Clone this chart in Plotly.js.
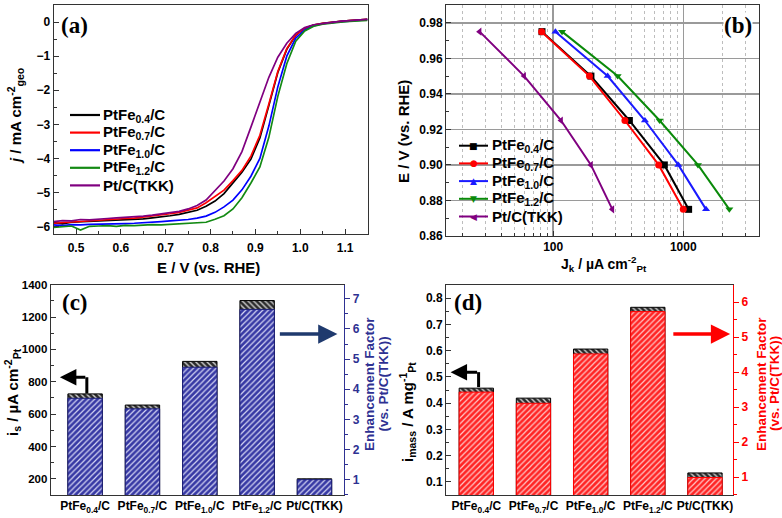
<!DOCTYPE html>
<html><head><meta charset="utf-8">
<script src="https://cdn.plot.ly/plotly-3.0.1.min.js"></script>
<style>html,body{margin:0;padding:0;background:#fff}#chart{width:782px;height:518px}</style>
</head><body><div id="chart"></div>
<script>
// ---------- (a) LSV curves ----------
const potential = [0.45,0.47,0.49,0.51,0.53,0.55,0.57,0.59,0.61,0.63,0.65,0.67,0.69,0.71,0.73,0.75,0.77,0.79,0.81,0.83,0.85,0.87,0.89,0.91,0.93,0.95,0.97,0.99,1.01,1.03,1.05,1.07,1.09,1.11,1.13,1.15];
const jPtFe04 = [-5.88,-5.92,-5.87,-5.86,-5.85,-5.84,-5.82,-5.81,-5.80,-5.78,-5.77,-5.74,-5.72,-5.68,-5.64,-5.58,-5.52,-5.40,-5.25,-5.03,-4.72,-4.40,-4.02,-3.40,-2.45,-1.48,-0.80,-0.39,-0.18,-0.09,-0.04,0.0,0.02,0.04,0.06,0.08];
const jPtFe07 = [-5.90,-5.88,-5.86,-5.84,-5.83,-5.82,-5.80,-5.78,-5.76,-5.75,-5.72,-5.70,-5.66,-5.62,-5.58,-5.52,-5.45,-5.30,-5.12,-4.93,-4.65,-4.35,-3.93,-3.32,-2.40,-1.45,-0.78,-0.38,-0.18,-0.09,-0.04,0.0,0.02,0.04,0.06,0.08];
const jPtFe10 = [-5.95,-5.97,-5.94,-5.95,-5.93,-5.93,-5.92,-5.92,-5.91,-5.90,-5.89,-5.87,-5.85,-5.83,-5.82,-5.79,-5.75,-5.69,-5.58,-5.42,-5.22,-4.92,-4.52,-4.00,-3.05,-1.90,-1.00,-0.47,-0.23,-0.11,-0.05,-0.01,0.01,0.03,0.05,0.07];
const jPtFe12 = [-6.02,-6.00,-5.98,-6.10,-5.99,-5.98,-5.97,-5.99,-5.96,-5.97,-5.95,-5.94,-5.95,-5.93,-5.92,-5.91,-5.89,-5.87,-5.78,-5.68,-5.48,-5.15,-4.72,-4.25,-3.38,-2.18,-1.22,-0.56,-0.26,-0.12,-0.06,-0.02,0.0,0.02,0.04,0.05];
const jPtTKK = [-5.85,-5.82,-5.83,-5.79,-5.80,-5.77,-5.76,-5.74,-5.73,-5.72,-5.69,-5.66,-5.62,-5.58,-5.55,-5.48,-5.38,-5.22,-4.95,-4.66,-4.30,-3.80,-3.08,-2.32,-1.62,-1.03,-0.62,-0.33,-0.16,-0.08,-0.04,0.0,0.02,0.04,0.06,0.08];

// ---------- (b) Tafel ----------
const tafelE = [0.975,0.95,0.925,0.90,0.875];
const jkPtFe04 = [82,195,385,715,1099];
const jkPtFe07 = [81.5,190,356,647,1000];
const jkPtFe10 = [104,262,507,916,1496];
const jkPtFe12 = [117,313,658,1297,2260];
const jkPtTKK = [27.2,59.8,115,195,285];

// ---------- (c),(d) bars ----------
const catLabels = ['PtFe<sub>0.4</sub>/C','PtFe<sub>0.7</sub>/C','PtFe<sub>1.0</sub>/C','PtFe<sub>1.2</sub>/C','Pt/C(TKK)'];
const catIdx = [0,1,2,3,4];
const specActivity = [725,656,926,1302,200];
const enhanceSpec = [3.70,3.35,4.73,6.65,1.00];
const massActivity = [0.457,0.419,0.606,0.765,0.134];
const enhanceMass = [3.43,3.11,4.52,5.73,0.99];

const seriesNames = ['PtFe<sub>0.4</sub>/C','PtFe<sub>0.7</sub>/C','PtFe<sub>1.0</sub>/C','PtFe<sub>1.2</sub>/C','Pt/C(TKK)'];
const colA = ['#000000','#ff0000','#0000ff','#138a13','#800080'];
const colB = ['#000000','#ff0000','#1a1aff','#0a8a0a','#800080'];
const symB = ['square','circle','triangle-up','triangle-down','triangle-left'];
const symGlyph = ['\u25A0','\u25CF','\u25B2','\u25BC','\u25C0'];

const FONT = 'Arial, "Liberation Sans", sans-serif';
const SERIF = '"Times New Roman", "Liberation Serif", serif';
const W = 782, H = 518;
const px = v => v / W, py = v => 1 - v / H;

const traces = [];
const jA = [jPtFe04,jPtFe07,jPtFe10,jPtFe12,jPtTKK];
jA.forEach((y,i)=>traces.push({type:'scatter',mode:'lines',x:potential,y:y,name:seriesNames[i],
  line:{color:colA[i],width:1.7},xaxis:'x',yaxis:'y'}));
const jB = [jkPtFe04,jkPtFe07,jkPtFe10,jkPtFe12,jkPtTKK];
jB.forEach((x,i)=>traces.push({type:'scatter',mode:'lines+markers',x:x,y:tafelE,name:seriesNames[i],
  line:{color:colB[i],width:2},marker:{symbol:symB[i],size:7,color:colB[i]},xaxis:'x2',yaxis:'y2'}));

// (c)
traces.push({type:'bar',x:catIdx,y:specActivity,width:0.6,xaxis:'x3',yaxis:'y3',
  marker:{color:'#333',line:{color:'#000',width:1},pattern:{shape:'\\',bgcolor:'#2a2a2a',fgcolor:'#d0d0d0',size:4,solidity:0.35}}});
traces.push({type:'bar',x:catIdx,y:enhanceSpec,width:0.6,xaxis:'x3',yaxis:'y4',
  marker:{color:'#3a3ca6',line:{color:'#1c1f7a',width:1},pattern:{shape:'/',bgcolor:'#3739a4',fgcolor:'#d6d6f4',size:4,solidity:0.3}}});
// (d)
traces.push({type:'bar',x:catIdx,y:massActivity,width:0.6,xaxis:'x4',yaxis:'y5',
  marker:{color:'#333',line:{color:'#000',width:1},pattern:{shape:'\\',bgcolor:'#2a2a2a',fgcolor:'#d0d0d0',size:4,solidity:0.35}}});
traces.push({type:'bar',x:catIdx,y:enhanceMass,width:0.6,xaxis:'x4',yaxis:'y6',
  marker:{color:'#ff2020',line:{color:'#ff0000',width:1},pattern:{shape:'/',bgcolor:'#ff2424',fgcolor:'#ffc8c8',size:4,solidity:0.3}}});

const tickF = {family:FONT,size:12,color:'#000',weight:'bold'};
const axBase = {showline:true,linecolor:'#333',linewidth:1,mirror:true,ticks:'inside',ticklen:5,tickcolor:'#333',
  tickfont:tickF,zeroline:false,showgrid:false};

const shapes = [
  {type:'line',xref:'x3',yref:'y3',x0:0.03,x1:0.03,y0:728,y1:828,line:{color:'#000',width:3}},
  {type:'line',xref:'x4',yref:'y5',x0:0.04,x1:0.04,y0:0.461,y1:0.518,line:{color:'#000',width:3}},
  // white backing for legend of (b)
  {type:'rect',xref:'paper',yref:'paper',x0:px(447),x1:px(563),y0:py(228),y1:py(137),fillcolor:'#fff',line:{width:0},layer:'between'}
];

const ann = [
  {text:'(a)',x:px(74),y:py(25),font:{family:SERIF,size:23,color:'#000',weight:'bold'}},
  {text:'(b)',x:px(738),y:py(25),bgcolor:'#fff',font:{family:SERIF,size:23,color:'#000',weight:'bold'}},
  {text:'(c)',x:px(75),y:py(302),font:{family:SERIF,size:23,color:'#000',weight:'bold'}},
  {text:'(d)',x:px(468),y:py(302),font:{family:SERIF,size:23,color:'#000',weight:'bold'}},
  {text:'E / V (vs. RHE)',x:px(208),y:py(267),font:{family:FONT,size:15,weight:'bold'}},
  {text:'J<sub>k</sub> / µA cm<sup>-2</sup><sub>Pt</sub>',x:px(604),y:py(264),font:{family:FONT,size:14,weight:'bold'}},
  {text:'<i>j</i> / mA cm<sup>-2</sup><sub>geo</sub>',x:px(15),y:py(116),textangle:-90,font:{family:FONT,size:15,weight:'bold'}},
  {text:'E / V (vs. RHE)',x:px(404),y:py(132),textangle:-90,font:{family:FONT,size:15,weight:'bold'}},
  {text:'i<sub>s</sub> / µA cm<sup>-2</sup><sub>Pt</sub>',x:px(12),y:py(392),textangle:-90,font:{family:FONT,size:15,weight:'bold'}},
  {text:'Enhancement Factor',x:px(369),y:py(384),textangle:-90,font:{family:FONT,size:13.5,color:'#2e3192',weight:'bold'}},
  {text:'(vs. Pt/C(TKK))',x:px(382.5),y:py(384),textangle:-90,font:{family:FONT,size:13.5,color:'#2e3192',weight:'bold'}},
  {text:'i<sub>mass</sub> / A mg<sup>-1</sup><sub>Pt</sub>',x:px(407),y:py(412),textangle:-90,font:{family:FONT,size:15,weight:'bold'}},
  {text:'Enhancement Factor',x:px(761),y:py(384),textangle:-90,font:{family:FONT,size:13.5,color:'#ff0000',weight:'bold'}},
  {text:'(vs. Pt/C(TKK))',x:px(774),y:py(384),textangle:-90,font:{family:FONT,size:13.5,color:'#ff0000',weight:'bold'}}
].map(a=>Object.assign({xref:'paper',yref:'paper',showarrow:false,xanchor:'center',yanchor:'middle',borderpad:0},a));

// arrows
ann.push(
  {text:'',xref:'x3',yref:'y3',axref:'x3',ayref:'y3',x:-0.44,y:828,ax:0.03,ay:828,showarrow:true,arrowhead:2,arrowsize:1.1,arrowwidth:3,arrowcolor:'#000'},
  {text:'',xref:'x3',yref:'y3',axref:'x3',ayref:'y3',x:4.40,y:1095,ax:3.37,ay:1095,showarrow:true,arrowhead:2,arrowsize:1.1,arrowwidth:3.5,arrowcolor:'#1f3a6e'},
  {text:'',xref:'x4',yref:'y5',axref:'x4',ayref:'y5',x:-0.45,y:0.518,ax:0.04,ay:0.518,showarrow:true,arrowhead:2,arrowsize:1.1,arrowwidth:3,arrowcolor:'#000'},
  {text:'',xref:'x4',yref:'y5',axref:'x4',ayref:'y5',x:4.44,y:0.663,ax:3.42,ay:0.663,showarrow:true,arrowhead:2,arrowsize:1.1,arrowwidth:3.5,arrowcolor:'#ff0000'}
);

// legends (compact, as in the figure)
const legA = {lineX0:70,lineX1:100,textX:101,row0:115,step:17.6};
const legB = {lineX0:459,lineX1:488,textX:490,row0:145.7,step:17.7};
seriesNames.forEach((nm,i)=>{
  const ya = legA.row0 + i*legA.step;
  shapes.push({type:'line',xref:'paper',yref:'paper',x0:px(legA.lineX0),x1:px(legA.lineX1),y0:py(ya),y1:py(ya),line:{color:colA[i],width:2.2}});
  ann.push({text:nm,xref:'paper',yref:'paper',x:px(legA.textX),y:py(ya),xanchor:'left',yanchor:'middle',showarrow:false,
    font:{family:FONT,size:15,color:'#000',weight:'bold'}});
  const yb = legB.row0 + i*legB.step;
  shapes.push({type:'line',xref:'paper',yref:'paper',x0:px(legB.lineX0),x1:px(legB.lineX1),y0:py(yb),y1:py(yb),line:{color:colB[i],width:2}});
  ann.push({text:symGlyph[i],xref:'paper',yref:'paper',x:px((legB.lineX0+legB.lineX1)/2),y:py(yb),xanchor:'center',yanchor:'middle',showarrow:false,
    font:{family:'"DejaVu Sans", sans-serif',size:9,color:colB[i]}});
  ann.push({text:nm,xref:'paper',yref:'paper',x:px(legB.textX),y:py(yb),xanchor:'left',yanchor:'middle',showarrow:false,
    font:{family:FONT,size:15,color:'#000',weight:'bold'}});
});

const layout = {
  width:W,height:H,margin:{l:0,r:0,t:0,b:0},paper_bgcolor:'#fff',plot_bgcolor:'rgba(0,0,0,0)',
  font:{family:FONT,color:'#000',weight:'bold'},barmode:'overlay',showlegend:false,
  xaxis:Object.assign({},axBase,{domain:[px(53.6),px(367.5)],anchor:'y',range:[0.45,1.15],dtick:0.1,tick0:0,tickformat:'.1f',
    ticklabelstandoff:3,minor:{ticks:'inside',ticklen:3,dtick:0.05,tickcolor:'#333'}}),
  yaxis:Object.assign({},axBase,{domain:[py(233.5),py(5)],anchor:'x',range:[-6.2,0.5],dtick:1,
    minor:{ticks:'inside',ticklen:3,dtick:0.5,tickcolor:'#333'}}),
  xaxis2:Object.assign({},axBase,{domain:[px(446),px(759)],anchor:'y2',type:'log',range:[1.176,3.582],
    tickvals:[100,1000],ticktext:['100','1000'],showgrid:true,gridcolor:'#9a9a9a',gridwidth:1.5,
    minor:{dtick:'D1',ticks:'inside',ticklen:3,tickcolor:'#333',showgrid:true,gridcolor:'#bdbdbd',griddash:'dot',gridwidth:1}}),
  yaxis2:Object.assign({},axBase,{domain:[py(236),py(5)],anchor:'x2',range:[0.86,0.99],dtick:0.02,tick0:0.86,tickformat:'.2f',
    showgrid:true,gridcolor:'#9a9a9a',gridwidth:1.5,minor:{ticks:'inside',ticklen:3,dtick:0.01,tickcolor:'#333'}}),
  xaxis3:Object.assign({},axBase,{domain:[px(50.7),px(344.3)],anchor:'y3',range:[-0.6,4.52],tickvals:catIdx,ticktext:catLabels,ticks:'',mirror:true}),
  yaxis3:Object.assign({},axBase,{domain:[py(495),py(284.7)],anchor:'x3',range:[100,1400],dtick:200,tick0:0,mirror:false,
    tickfont:Object.assign({},tickF,{size:11.5}),minor:{ticks:'inside',ticklen:3,dtick:100,tickcolor:'#333'}}),
  yaxis4:{overlaying:'y3',side:'right',anchor:'x3',range:[0.49,7.47],dtick:1,showline:true,linecolor:'#2e3192',linewidth:1,
    ticks:'outside',ticklen:5,tickcolor:'#2e3192',tickfont:Object.assign({},tickF,{color:'#2e3192'}),showgrid:false,zeroline:false,
    minor:{ticks:'outside',ticklen:3,dtick:0.5,tickcolor:'#2e3192'}},
  xaxis4:Object.assign({},axBase,{domain:[px(446),px(733)],anchor:'y5',range:[-0.53,4.49],tickvals:catIdx,ticktext:catLabels,ticks:'',mirror:true}),
  yaxis5:Object.assign({},axBase,{domain:[py(495),py(285)],anchor:'x4',range:[0.05,0.85],dtick:0.1,tick0:0,tickformat:'.1f',mirror:false,
    minor:{ticks:'inside',ticklen:3,dtick:0.05,tickcolor:'#333'}}),
  yaxis6:{overlaying:'y5',side:'right',anchor:'x4',range:[0.49,6.49],dtick:1,showline:true,linecolor:'#ff0000',linewidth:1,
    ticks:'outside',ticklen:5,tickcolor:'#ff0000',tickfont:Object.assign({},tickF,{color:'#ff0000'}),showgrid:false,zeroline:false,
    minor:{ticks:'outside',ticklen:3,dtick:0.5,tickcolor:'#ff0000'}},
  shapes:shapes,
  annotations:ann
};
Plotly.newPlot('chart',traces,layout,{displayModeBar:false,staticPlot:true});
</script></body></html>
